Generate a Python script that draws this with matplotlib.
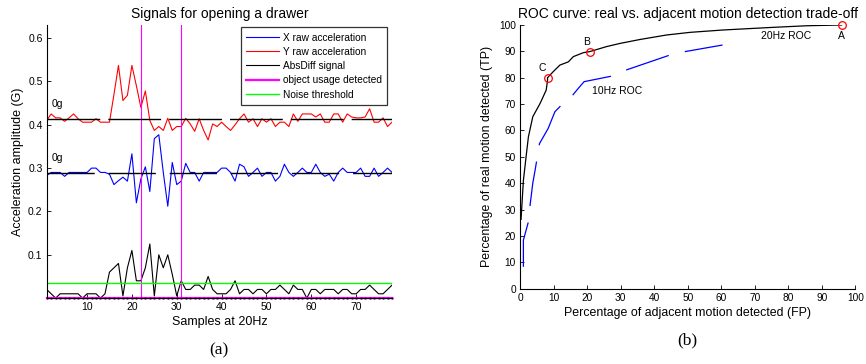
import numpy as np
import matplotlib
matplotlib.use("Agg")
import matplotlib.pyplot as plt

plt.rcParams["font.family"] = ["Liberation Sans", "DejaVu Sans"]

# (a) signals for opening a drawer, 78 samples at 20Hz
samples = np.arange(1, 79)

y_raw = [0.410, 0.425, 0.416, 0.416, 0.408, 0.416, 0.425, 0.414, 0.406, 0.406,
         0.406, 0.414, 0.406, 0.406, 0.406, 0.470, 0.537, 0.456, 0.468, 0.537,
         0.490, 0.440, 0.478, 0.410, 0.387, 0.396, 0.387, 0.415, 0.387, 0.396,
         0.396, 0.415, 0.402, 0.385, 0.414, 0.387, 0.365, 0.402, 0.396, 0.406,
         0.396, 0.387, 0.400, 0.414, 0.425, 0.406, 0.414, 0.396, 0.414, 0.406,
         0.414, 0.396, 0.406, 0.406, 0.396, 0.425, 0.408, 0.425, 0.425, 0.425,
         0.418, 0.425, 0.406, 0.406, 0.425, 0.425, 0.406, 0.425, 0.418, 0.416,
         0.416, 0.418, 0.437, 0.406, 0.406, 0.416, 0.396, 0.406]

x_raw = [0.283, 0.290, 0.290, 0.290, 0.281, 0.290, 0.290, 0.290, 0.290, 0.290,
         0.300, 0.300, 0.290, 0.290, 0.286, 0.262, 0.271, 0.279, 0.270, 0.333,
         0.220, 0.275, 0.303, 0.246, 0.368, 0.377, 0.290, 0.212, 0.313, 0.262,
         0.270, 0.311, 0.290, 0.290, 0.270, 0.290, 0.290, 0.290, 0.290, 0.300,
         0.300, 0.290, 0.270, 0.309, 0.303, 0.281, 0.290, 0.300, 0.281, 0.290,
         0.290, 0.270, 0.281, 0.309, 0.290, 0.281, 0.290, 0.300, 0.290, 0.290,
         0.309, 0.290, 0.281, 0.286, 0.270, 0.290, 0.300, 0.290, 0.290, 0.290,
         0.300, 0.281, 0.281, 0.300, 0.281, 0.290, 0.300, 0.290]

absdiff = [0.020, 0.010, 0.000, 0.010, 0.010, 0.010, 0.010, 0.010, 0.000, 0.010,
           0.010, 0.010, 0.000, 0.010, 0.060, 0.070, 0.080, 0.005, 0.070, 0.110,
           0.040, 0.040, 0.070, 0.125, 0.005, 0.100, 0.070, 0.100, 0.055, 0.005,
           0.040, 0.020, 0.020, 0.030, 0.030, 0.020, 0.050, 0.020, 0.010, 0.010,
           0.010, 0.020, 0.040, 0.010, 0.020, 0.020, 0.010, 0.020, 0.020, 0.010,
           0.020, 0.020, 0.030, 0.020, 0.010, 0.030, 0.020, 0.020, 0.000, 0.020,
           0.020, 0.010, 0.020, 0.020, 0.020, 0.010, 0.020, 0.020, 0.010, 0.010,
           0.020, 0.020, 0.030, 0.020, 0.010, 0.010, 0.020, 0.030]

usage_events = [22, 31]
noise_threshold = 0.035
zero_g_y = 0.4135
zero_g_x = 0.289

# (b) ROC curves (FP %, TP %)
fp_20 = [0.3, 1.0, 1.8, 2.5, 3.8, 6.0, 7.8, 8.2, 8.2, 9.9, 11.9, 14.4, 15.9, 18.9,
         20.8, 25.8, 29.8, 35.8, 43.7, 50.7, 60.6, 75.5, 85.5, 95.9]
tp_20 = [26.3, 41.0, 50.0, 57.6, 65.2, 70.3, 75.3, 79.0, 80.0, 82.3, 84.8, 86.0,
         88.0, 89.5, 89.9, 91.8, 93.0, 94.5, 96.2, 97.2, 98.1, 99.1, 99.7, 100.0]
fp_10 = [1.0, 1.0, 2.5, 3.0, 3.8, 4.5, 5.0, 5.8, 8.4, 10.4, 12.1, 15.7, 17.4, 19.1,
         27.3, 31.6, 44.7, 49.2, 60.4]
tp_10 = [8.3, 18.4, 25.4, 31.7, 40.0, 45.0, 48.8, 55.0, 60.8, 67.1, 69.3, 73.4,
         76.0, 78.5, 80.6, 82.9, 88.6, 89.9, 92.4]
pts_labels = ["A", "B", "C"]
pts_fp = [95.9, 20.8, 8.2]
pts_tp = [100.0, 89.9, 80.0]

fig = plt.figure(figsize=(8.66, 3.64), dpi=100)

# ---- left panel
ax1 = fig.add_axes([0.0539, 0.181, 0.3988, 0.750])
ax1.plot(samples, x_raw, color="#0000ff", lw=0.8, label="X raw acceleration")
ax1.plot(samples, y_raw, color="#ff0000", lw=0.8, label="Y raw acceleration")
ax1.plot(samples, absdiff, color="black", lw=0.8, label="AbsDiff signal")
for ev in usage_events:
    ax1.axvline(ev, color="#ff00ff", lw=0.8)
ax1.plot(samples, np.zeros(len(samples)), color="#ff00ff", lw=1.6,
         label="object usage detected", clip_on=False)
ax1.plot(samples, np.zeros(len(samples)), ls="none", marker=".", ms=1.6,
         color="#a000a0", clip_on=False)
ax1.axhline(noise_threshold, color="#00ff00", lw=1.0, label="Noise threshold")
# dashed "0g" reference levels
ax1.plot([1, 78], [zero_g_y, zero_g_y], color="black", lw=1.0,
         dashes=(38, 5.8), zorder=3)
ax1.plot([1, 78], [zero_g_x, zero_g_x], color="black", lw=1.0,
         dashes=(34, 10), zorder=3)
ax1.text(2.0, 0.447, "0g", fontsize=7.5, va="center")
ax1.text(2.0, 0.324, "0g", fontsize=7.5, va="center")
ax1.set_xlim(1, 78)
ax1.set_ylim(0, 0.63)
ax1.set_xticks([10, 20, 30, 40, 50, 60, 70])
ax1.set_yticks([0.1, 0.2, 0.3, 0.4, 0.5, 0.6])
ax1.set_yticklabels(["0.1", "0.2", "0.3", "0.4", "0.5", "0.6"])
ax1.tick_params(direction="in", labelsize=7.5, length=3, width=0.6, pad=3)
for s in ["top", "right"]:
    ax1.spines[s].set_visible(False)
for s in ["left", "bottom"]:
    ax1.spines[s].set_linewidth(0.8)
ax1.set_title("Signals for opening a drawer", fontsize=10, pad=5)
ax1.set_xlabel("Samples at 20Hz", fontsize=9, labelpad=3)
ax1.set_ylabel("Acceleration amplitude (G)", fontsize=9, labelpad=3)
leg = ax1.legend(loc="upper right", bbox_to_anchor=(1.0, 1.01), fontsize=7.3,
                 frameon=True, fancybox=False, edgecolor="black",
                 handlelength=3.2, labelspacing=0.42, borderpad=0.5,
                 handletextpad=0.4)
leg.get_frame().set_linewidth(0.9)
ax1.text(0.5, -0.19, "(a)", transform=ax1.transAxes, ha="center", va="center",
         fontsize=12.5, family="Liberation Serif")

# ---- right panel
ax2 = fig.add_axes([0.6005, 0.2069, 0.3872, 0.7245])
ax2.plot(fp_20, tp_20, color="black", lw=0.9)
ax2.plot(fp_10, tp_10, color="#0000ff", lw=0.9, dashes=(36, 13.2))
ax2.plot(pts_fp, pts_tp, "o", mfc="none", mec="#ff0000", ms=5.5, mew=0.9,
         clip_on=False)
label_pos = {"A": (95.9, 95.9), "B": (19.7, 93.7), "C": (6.5, 83.8)}
for lab in pts_labels:
    ax2.text(label_pos[lab][0], label_pos[lab][1], lab, fontsize=7.5,
             ha="center", va="center")
ax2.text(79.3, 95.9, "20Hz ROC", fontsize=7.5, ha="center", va="center")
ax2.text(29.1, 75.1, "10Hz ROC", fontsize=7.5, ha="center", va="center")
ax2.set_xlim(0, 100)
ax2.set_ylim(0, 100)
ax2.set_xticks(np.arange(0, 101, 10))
ax2.set_yticks(np.arange(0, 101, 10))
ax2.tick_params(direction="in", labelsize=7.3, length=3, width=0.6, pad=3)
for s in ["top", "right"]:
    ax2.spines[s].set_visible(False)
for s in ["left", "bottom"]:
    ax2.spines[s].set_linewidth(0.8)
ax2.set_title("ROC curve: real vs. adjacent motion detection trade-off",
              fontsize=10, pad=5)
ax2.set_xlabel("Percentage of adjacent motion detected (FP)", fontsize=8.9,
               labelpad=3)
ax2.set_ylabel("Percentage of real motion detected (TP)", fontsize=8.9,
               labelpad=4)
ax2.text(0.5, -0.195, "(b)", transform=ax2.transAxes, ha="center", va="center",
         fontsize=12.5, family="Liberation Serif")

fig.savefig("out.png", dpi=100)
